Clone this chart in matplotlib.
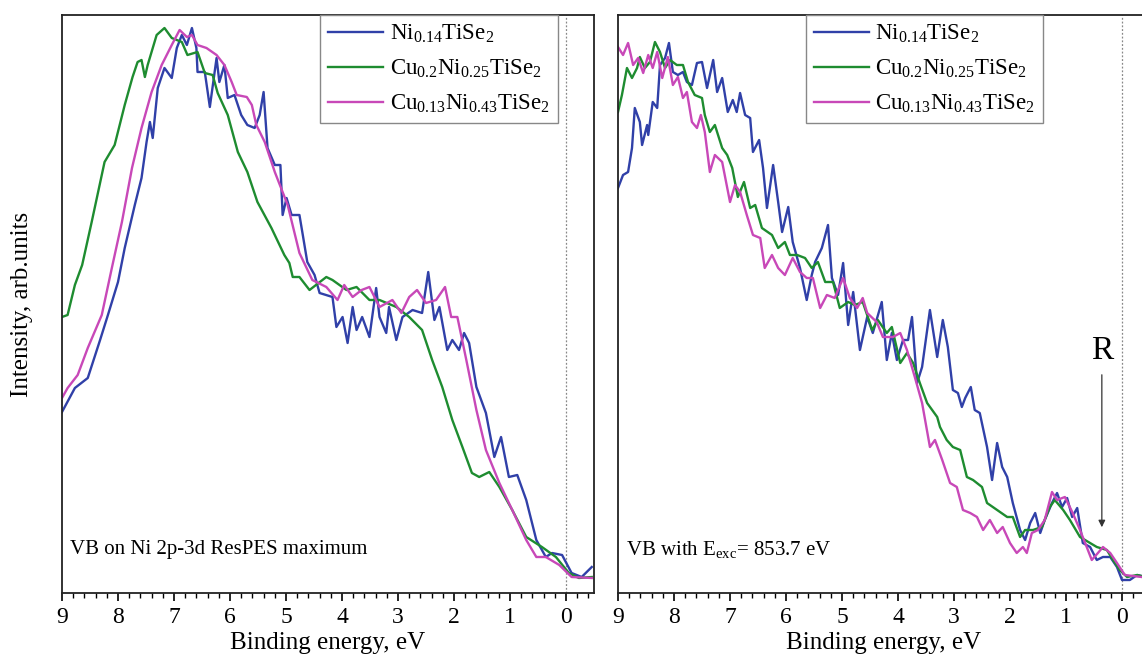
import numpy as np
import matplotlib
matplotlib.use('Agg')
import matplotlib.pyplot as plt
from matplotlib.ticker import MultipleLocator

plt.rcParams['font.family'] = ['Liberation Serif', 'DejaVu Serif']
plt.rcParams['mathtext.fontset'] = 'custom'
plt.rcParams['mathtext.rm'] = 'Liberation Serif'
plt.rcParams['mathtext.it'] = 'Liberation Serif:italic'

labels = [r'Ni$_{0.14}$TiSe$_2$', r'Cu$_{0.2}$Ni$_{0.25}$TiSe$_2$', r'Cu$_{0.13}$Ni$_{0.43}$TiSe$_2$']
colors = ['#3040a8', '#1e8c30', '#c848b8']

# left panel: VB on Ni 2p-3d ResPES maximum (intensity in arb. units)
left_ni_e = [9.0, 8.77, 8.54, 8.32, 8.18, 8.0, 7.88, 7.7, 7.58, 7.49, 7.43, 7.38, 7.29, 7.17, 7.04, 6.95, 6.86, 6.77, 6.68, 6.6,
             6.58, 6.45, 6.36, 6.24, 6.19, 6.1, 6.04, 5.92, 5.8, 5.69, 5.56, 5.47, 5.4, 5.33, 5.2, 5.1, 5.06, 4.99, 4.9, 4.76,
             4.7, 4.62, 4.49, 4.4, 4.17, 4.1, 3.99, 3.9, 3.81, 3.74, 3.64, 3.51, 3.39, 3.33, 3.21, 3.16, 3.03, 2.92, 2.74, 2.57,
             2.46, 2.35, 2.26, 2.12, 2.03, 1.91, 1.82, 1.73, 1.6, 1.43, 1.28, 1.16, 1.02, 0.87, 0.71, 0.53, 0.36, 0.25, 0.07, -0.1,
             -0.28, -0.46]
left_ni_i = [167, 191, 201, 239, 264, 297, 331, 374, 401, 437, 457, 441, 491, 511, 501, 531, 544, 534, 551, 531,
             507, 507, 472, 521, 497, 514, 481, 484, 464, 454, 451, 464, 487, 431, 414, 414, 364, 381, 364, 364,
             344, 317, 304, 286, 282, 252, 262, 236, 272, 249, 262, 242, 291, 262, 246, 272, 239, 262, 269, 266,
             307, 259, 272, 229, 239, 229, 246, 236, 192, 166, 122, 142, 102, 104, 79, 39, 22, 26, 24, 6,
             2, 12]

left_cu02_e = [9.0, 8.9, 8.77, 8.64, 8.47, 8.24, 8.06, 7.88, 7.74, 7.65, 7.58, 7.52, 7.47, 7.31, 7.17, 7.04, 6.86, 6.76, 6.58, 6.45,
               6.31, 6.22, 6.04, 5.86, 5.69, 5.51, 5.26, 5.03, 4.94, 4.88, 4.76, 4.58, 4.28, 4.17, 3.92, 3.74, 3.51, 3.33, 3.03, 2.8,
               2.57, 2.39, 2.21, 2.03, 1.85, 1.68, 1.55, 1.37, 1.19, 0.96, 0.71, 0.43, 0.18, -0.05, -0.23, -0.46]
left_cu02_i = [262, 264, 294, 314, 357, 417, 434, 474, 502, 517, 519, 502, 514, 544, 551, 541, 537, 524, 527, 506,
               504, 486, 464, 427, 407, 377, 351, 324, 316, 302, 302, 289, 302, 299, 289, 292, 279, 279, 272, 262,
               249, 219, 192, 159, 132, 106, 102, 107, 92, 69, 42, 32, 22, 6, 1, 2]

left_cu013_e = [9.0, 8.9, 8.72, 8.54, 8.29, 8.11, 7.93, 7.75, 7.58, 7.4, 7.22, 7.04, 6.9, 6.77, 6.68, 6.58, 6.42, 6.24, 6.1, 5.97,
                5.88, 5.7, 5.61, 5.53, 5.38, 5.2, 4.97, 4.76, 4.53, 4.28, 4.08, 3.96, 3.81, 3.65, 3.51, 3.33, 3.1, 2.94, 2.8, 2.66,
                2.5, 2.32, 2.16, 2.05, 1.94, 1.78, 1.6, 1.43, 1.19, 0.96, 0.71, 0.53, 0.36, 0.12, -0.1, -0.46]
left_cu013_i = [181, 191, 204, 231, 264, 311, 357, 411, 451, 487, 514, 534, 549, 542, 544, 534, 531, 524, 514, 497,
                484, 482, 474, 454, 437, 407, 374, 326, 299, 292, 279, 294, 282, 289, 292, 272, 279, 266, 282, 289,
                276, 279, 292, 262, 262, 219, 169, 129, 96, 69, 39, 22, 22, 14, 2, 1]

# right panel: VB with E_exc = 853.7 eV
right_ni_e = [9.0, 8.91, 8.82, 8.75, 8.7, 8.61, 8.57, 8.48, 8.46, 8.38, 8.3, 8.25, 8.16, 8.09, 8.02, 7.93, 7.84, 7.77, 7.68, 7.59,
              7.5, 7.41, 7.3, 7.23, 7.14, 7.04, 6.95, 6.88, 6.82, 6.73, 6.64, 6.59, 6.48, 6.41, 6.34, 6.23, 6.14, 6.07, 5.96, 5.88,
              5.75, 5.63, 5.54, 5.48, 5.36, 5.25, 5.18, 5.07, 4.98, 4.89, 4.8, 4.68, 4.55, 4.45, 4.29, 4.2, 4.11, 4.02, 3.91, 3.82,
              3.75, 3.66, 3.57, 3.43, 3.3, 3.2, 3.11, 3.02, 2.93, 2.86, 2.8, 2.7, 2.63, 2.54, 2.41, 2.32, 2.23, 2.14, 2.05, 1.95,
              1.82, 1.73, 1.64, 1.55, 1.46, 1.38, 1.25, 1.16, 1.07, 0.98, 0.89, 0.8, 0.7, 0.57, 0.45, 0.34, 0.21, 0.09, 0.0, -0.14,
              -0.27, -0.5]
right_ni_i = [391, 404, 407, 431, 471, 457, 434, 454, 444, 477, 471, 514, 521, 536, 507, 504, 507, 497, 494, 516,
              517, 491, 519, 487, 501, 467, 479, 467, 486, 464, 461, 427, 439, 411, 371, 414, 377, 347, 372, 337,
              311, 279, 304, 317, 331, 354, 301, 284, 316, 254, 287, 229, 262, 246, 277, 219, 246, 219, 239, 239,
              262, 196, 212, 269, 222, 259, 232, 189, 186, 172, 181, 192, 169, 166, 132, 99, 136, 112, 102, 76,
              49, 39, 56, 66, 46, 59, 76, 86, 72, 81, 62, 71, 36, 32, 19, 22, 22, 12, -1, -1,
              4, 1]

right_cu02_e = [9.0, 8.93, 8.84, 8.75, 8.66, 8.61, 8.52, 8.43, 8.34, 8.25, 8.16, 8.07, 7.95, 7.84, 7.75, 7.63, 7.5, 7.45, 7.36, 7.27,
                7.14, 7.05, 6.96, 6.86, 6.75, 6.64, 6.55, 6.43, 6.25, 6.14, 6.02, 5.93, 5.8, 5.66, 5.54, 5.43, 5.3, 5.16, 5.04, 4.89,
                4.77, 4.63, 4.46, 4.36, 4.2, 4.11, 3.96, 3.84, 3.73, 3.61, 3.48, 3.3, 3.25, 3.13, 3.02, 2.89, 2.77, 2.66, 2.5, 2.41,
                2.23, 2.05, 1.95, 1.82, 1.73, 1.59, 1.43, 1.29, 1.2, 1.05, 0.93, 0.75, 0.57, 0.45, 0.27, 0.16, 0.04, -0.09, -0.27, -0.5]
right_cu02_i = [467, 484, 511, 501, 511, 522, 511, 517, 537, 527, 511, 519, 514, 514, 497, 484, 481, 464, 447, 454,
                431, 424, 411, 382, 397, 371, 374, 351, 344, 331, 337, 324, 324, 321, 311, 317, 297, 297, 271, 277,
                274, 277, 249, 259, 246, 252, 216, 226, 216, 196, 176, 162, 152, 139, 132, 129, 102, 99, 92, 76,
                69, 62, 62, 42, 49, 49, 52, 72, 79, 69, 59, 42, 36, 32, 29, 19, 9, 2, 4, 1]

right_cu013_e = [9.0, 8.91, 8.82, 8.73, 8.64, 8.55, 8.46, 8.38, 8.3, 8.21, 8.11, 8.02, 7.93, 7.84, 7.77, 7.68, 7.59, 7.52, 7.45, 7.36,
                 7.27, 7.14, 7.0, 6.91, 6.82, 6.7, 6.59, 6.46, 6.38, 6.25, 6.14, 6.02, 5.88, 5.75, 5.63, 5.52, 5.39, 5.27, 5.13, 4.98,
                 4.86, 4.73, 4.63, 4.55, 4.38, 4.27, 4.09, 3.96, 3.84, 3.7, 3.57, 3.43, 3.34, 3.21, 3.07, 2.95, 2.84, 2.71, 2.59, 2.48,
                 2.36, 2.23, 2.13, 2.0, 1.88, 1.77, 1.7, 1.61, 1.5, 1.38, 1.25, 1.16, 1.02, 0.88, 0.75, 0.63, 0.54, 0.43, 0.34, 0.21,
                 0.09, -0.05, -0.5]
right_cu013_i = [532, 524, 536, 514, 521, 506, 524, 511, 527, 501, 522, 494, 502, 481, 487, 457, 451, 464, 447, 407,
                 424, 417, 377, 394, 387, 364, 344, 341, 311, 324, 311, 304, 321, 307, 301, 301, 271, 284, 281, 301,
                 281, 271, 281, 266, 257, 242, 242, 246, 229, 202, 176, 132, 139, 119, 96, 92, 69, 66, 62, 49,
                 59, 46, 52, 36, 26, 32, 26, 46, 49, 59, 87, 79, 82, 66, 49, 32, 19, 26, 32, 26,
                 16, 4, 1]

panels = [
    ([(left_ni_e, left_ni_i), (left_cu02_e, left_cu02_i), (left_cu013_e, left_cu013_i)],
     'VB on Ni 2p-3d ResPES maximum', 0.932),
    ([(right_ni_e, right_ni_i), (right_cu02_e, right_cu02_i), (right_cu013_e, right_cu013_i)],
     r'VB with E$_{\mathrm{exc}}$= 853.7 eV', 0.799),
]

fig = plt.figure(figsize=(11.42, 6.6), dpi=100)
ax_left = fig.add_axes([62 / 1142, 67 / 660, 532 / 1142, 578 / 660])
ax_right = fig.add_axes([618 / 1142, 67 / 660, 532 / 1142, 578 / 660])

for ax, (series, note, leg_x) in zip([ax_left, ax_right], panels):
    for (e, inten), lab, c in zip(series, labels, colors):
        ax.plot(e, inten, color=c, lw=1.7, label=lab)
    ax.axvline(0, color='#888888', ls=(0, (1.5, 1.5)), lw=0.9, zorder=0)
    ax.set_xlim(9, -0.5)
    ax.set_ylim(-14, 564)
    ax.set_yticks([])
    ax.xaxis.set_major_locator(MultipleLocator(1))
    ax.xaxis.set_minor_locator(MultipleLocator(0.2))
    ax.tick_params(axis='x', which='major', direction='out', length=6, width=1.2, labelsize=17, pad=4)
    ax.tick_params(axis='x', which='minor', direction='out', length=3.5, width=1.0)
    for s in ax.spines.values():
        s.set_linewidth(1.3)
        s.set_color('#222222')
    ax.set_xlabel('Binding energy, eV', fontsize=18, labelpad=3)
    ax.text(0.015, 0.075, note, transform=ax.transAxes, fontsize=15, va='center', ha='left')
    leg = ax.legend(loc='upper right', bbox_to_anchor=(leg_x, 1.0), fontsize=16.5, frameon=True,
                    fancybox=False, framealpha=1, edgecolor='#888888', handlelength=2.4,
                    handletextpad=0.3, labelspacing=0.55, borderpad=0.35, borderaxespad=0)
    leg.get_frame().set_linewidth(1.0)

# resonance marker on the right panel
ax_right.annotate('', xy=(0.36, 49), xytext=(0.36, 207),
                  arrowprops=dict(arrowstyle='-|>', color='#333333', lw=0.9, mutation_scale=10))
ax_right.text(0.36, 228, 'R', fontsize=24, ha='center', va='center')

fig.text(22 / 1142, 1 - 304 / 660, 'Intensity, arb.units', rotation=90, fontsize=18, ha='center', va='center')

fig.savefig('out.png', dpi=100)
